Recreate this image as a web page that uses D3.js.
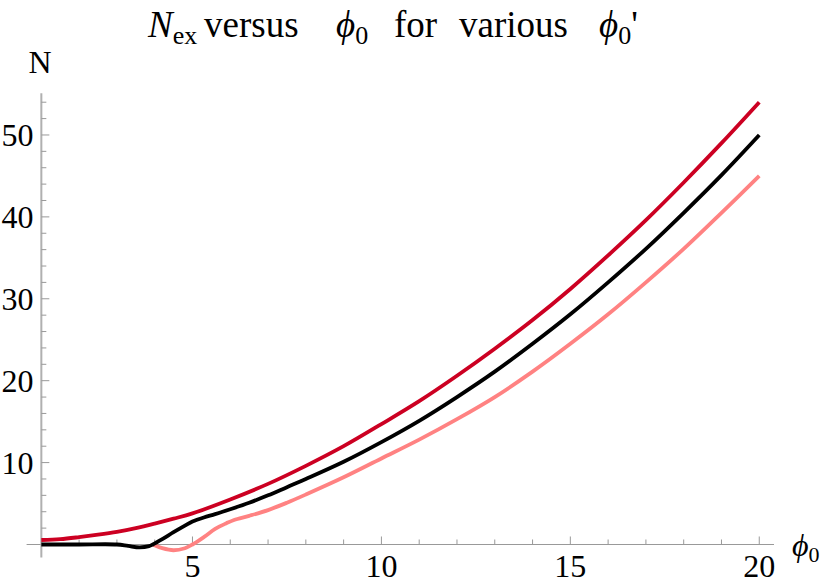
<!DOCTYPE html>
<html>
<head>
<meta charset="utf-8">
<script src="https://cdn.jsdelivr.net/npm/d3@7"></script>
<style>
  html, body { margin: 0; padding: 0; background: #fff; }
  svg { display: block; }
</style>
</head>
<body>
<svg id="chart" width="829" height="584"></svg>
<script>
// ---- data ----
const xMajorTicks = [5, 10, 15, 20];
const xMinorTicks = [2, 3, 4, 6, 7, 8, 9, 11, 12, 13, 14, 16, 17, 18, 19];
const yMajorTicks = [10, 20, 30, 40, 50];
const yMinorTicks = [2, 4, 6, 8, 12, 14, 16, 18, 22, 24, 26, 28, 32, 34, 36, 38, 42, 44, 46, 48, 52, 54];

// phi0' large (dark red)
const redX = [1, 1.5, 2, 2.5, 3, 3.5, 4, 4.5, 5, 6, 7, 8, 9, 10, 11, 12, 13, 14, 15, 16, 17, 18, 19, 20];
const redY = [0.55, 0.65, 0.9, 1.2, 1.55, 2.0, 2.55, 3.15, 3.8, 5.5, 7.4, 9.6, 12.0, 14.7, 17.5, 20.6, 23.9, 27.4, 31.2, 35.3, 39.6, 44.2, 49.0, 54.0];

// phi0' = 0 (black)
const blackX = [1, 2, 3, 3.3, 3.6, 3.85, 3.95, 4.2, 4.5, 4.8, 5, 5.3, 5.6, 6, 6.5, 7, 7.5, 8, 9, 10, 11, 12, 13, 14, 15, 16, 17, 18, 19, 20];
const blackY = [0, 0, 0, -0.18, -0.35, -0.2, 0, 0.65, 1.5, 2.3, 2.8, 3.3, 3.7, 4.3, 5.1, 6.0, 7.0, 8.0, 10.1, 12.5, 15.1, 18.0, 21.1, 24.5, 28.1, 32.0, 36.1, 40.5, 45.1, 50.0];

// phi0' negative (pink)
const pinkX = [3.95, 4.2, 4.5, 4.8, 5, 5.3, 5.6, 5.9, 6.1, 6.5, 7, 7.5, 8, 9, 10, 11, 12, 13, 14, 15, 16, 17, 18, 19, 20];
const pinkY = [0, -0.45, -0.7, -0.45, 0, 0.9, 1.9, 2.6, 3.0, 3.5, 4.2, 5.1, 6.1, 8.2, 10.5, 12.8, 15.3, 18.0, 21.1, 24.5, 28.1, 32.0, 36.1, 40.5, 45.0];

const seriesColors = ["#cc0022", "#000000", "#ff8282"];

// ---- layout ----
const FONT = "'Liberation Serif', 'Times New Roman', Times, serif";
const svg = d3.select("#chart");
const x = d3.scaleLinear().domain([0.61, 20.39]).range([26.6, 774]);
const y = d3.scaleLinear().domain([-1.6, 55.1]).range([557.6, 93.2]);
const x0 = x(1), y0 = y(0);
const axisColor = "#999";

// axes lines
svg.append("line").attr("x1", x(0.61)).attr("x2", x(20.39)).attr("y1", y0).attr("y2", y0)
  .attr("stroke", axisColor).attr("stroke-width", 1.2);
svg.append("line").attr("x1", x0).attr("x2", x0).attr("y1", y(-1.6)).attr("y2", y(55.1))
  .attr("stroke", "#b0b0b0").attr("stroke-width", 2);

// x ticks
const gx = svg.append("g");
gx.selectAll("line.maj").data(xMajorTicks).join("line").attr("class", "maj")
  .attr("x1", d => x(d)).attr("x2", d => x(d)).attr("y1", y0).attr("y2", y0 - 8)
  .attr("stroke", axisColor).attr("stroke-width", 1);
gx.selectAll("line.min").data(xMinorTicks).join("line").attr("class", "min")
  .attr("x1", d => x(d)).attr("x2", d => x(d)).attr("y1", y0).attr("y2", y0 - 5)
  .attr("stroke", axisColor).attr("stroke-width", 1);
gx.selectAll("text").data(xMajorTicks).join("text")
  .attr("x", d => x(d)).attr("y", 576.5).attr("text-anchor", "middle")
  .attr("font-family", FONT).attr("font-size", 32).text(d => d);

// y ticks
const gy = svg.append("g");
gy.selectAll("line.maj").data(yMajorTicks).join("line").attr("class", "maj")
  .attr("x1", x0).attr("x2", x0 + 8).attr("y1", d => y(d)).attr("y2", d => y(d))
  .attr("stroke", axisColor).attr("stroke-width", 1);
gy.selectAll("line.min").data(yMinorTicks).join("line").attr("class", "min")
  .attr("x1", x0).attr("x2", x0 + 5).attr("y1", d => y(d)).attr("y2", d => y(d))
  .attr("stroke", axisColor).attr("stroke-width", 1);
gy.selectAll("text").data(yMajorTicks).join("text")
  .attr("x", 33.5).attr("y", d => y(d) + 11).attr("text-anchor", "end")
  .attr("font-family", FONT).attr("font-size", 32).text(d => d);

// axis labels
svg.append("text").attr("x", 40).attr("y", 73).attr("text-anchor", "middle")
  .attr("font-family", FONT).attr("font-size", 32).text("N");
const xl = svg.append("text").attr("x", 792).attr("y", 556)
  .attr("font-family", FONT).attr("font-size", 32);
xl.append("tspan").attr("font-style", "italic").text("\u03d5");
xl.append("tspan").attr("font-size", 22).attr("dy", 6).text("0");

// title: pieces placed as in the reference
const tg = svg.append("g").attr("font-family", FONT).attr("font-size", 37);
function piece(px, main, sub, italic, tail) {
  const t = tg.append("text").attr("x", px).attr("y", 37);
  t.append("tspan").attr("font-style", italic ? "italic" : "normal").text(main);
  if (sub) t.append("tspan").attr("font-size", 26).attr("dy", 7).text(sub);
  if (tail) t.append("tspan").attr("dy", -7).text(tail);
}
piece(148, "N", "ex", true);
piece(204, "versus");
piece(336, "\u03d5", "0", true);
piece(394, "for");
piece(459, "various");
piece(599, "\u03d5", "0", true, "'");

// curves
const line = d3.line().x(d => x(d[0])).y(d => y(d[1])).curve(d3.curveCatmullRom.alpha(0.5));
const series = [
  d3.zip(redX, redY),
  d3.zip(blackX, blackY),
  d3.zip(pinkX, pinkY)
];
// draw order: pink, red, black (black on top)
[2, 0, 1].forEach(i => {
  svg.append("path").datum(series[i]).attr("d", line)
    .attr("fill", "none").attr("stroke", seriesColors[i])
    .attr("stroke-width", 3.8).attr("stroke-linejoin", "round");
});
</script>
</body>
</html>
